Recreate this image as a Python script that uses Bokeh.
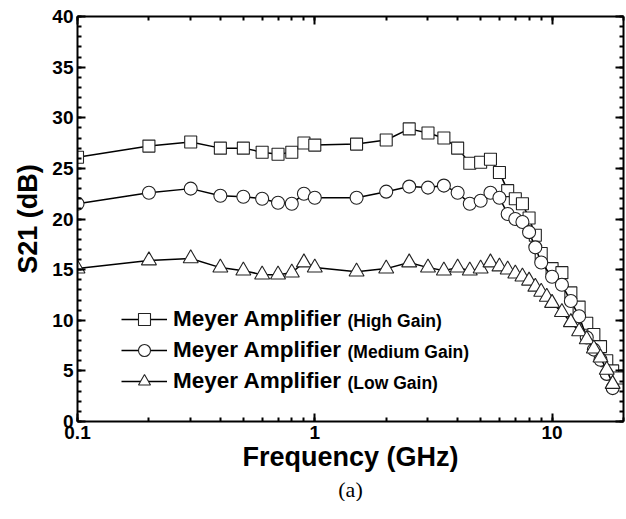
from bokeh.plotting import figure
from bokeh.models import (Range1d, LinearAxis, LogAxis, SingleIntervalTicker, LogTicker,
                          Legend, LegendItem, Label, Title, CustomJSTickFormatter)
from bokeh.embed import file_html
from bokeh.resources import INLINE

# ---- data ----
freq_high = [0.1, 0.2, 0.3, 0.4, 0.5, 0.6, 0.7, 0.8, 0.9, 1.0, 1.5, 2.0, 2.5, 3.0, 3.5, 4.0,
             4.5, 5.0, 5.5, 6.0, 6.5, 7.0, 7.5, 8.0, 8.5, 9.0, 10, 11, 12, 13, 14, 15, 16, 17, 18, 19]
s21_high = [26.1, 27.2, 27.6, 27.0, 27.0, 26.6, 26.4, 26.6, 27.5, 27.3, 27.4, 27.8, 28.9, 28.5, 28.0, 27.0,
            25.5, 25.6, 25.9, 24.6, 22.8, 22.0, 21.5, 20.1, 18.4, 16.6, 15.1, 14.7, 12.7, 11.3, 9.7, 8.6, 7.4, 6.0, 5.0, 4.3]

freq_med = [0.1, 0.2, 0.3, 0.4, 0.5, 0.6, 0.7, 0.8, 0.9, 1.0, 1.5, 2.0, 2.5, 3.0, 3.5, 4.0,
            4.5, 5.0, 5.5, 6.0, 6.5, 7.0, 7.5, 8.0, 8.5, 9.0, 10, 11, 12, 13, 14, 15, 16, 17, 18]
s21_med = [21.5, 22.6, 23.0, 22.3, 22.2, 22.0, 21.6, 21.5, 22.5, 22.1, 22.1, 22.7, 23.2, 23.1, 23.3, 22.6,
           21.5, 21.8, 22.6, 22.1, 20.5, 20.0, 19.7, 18.7, 17.2, 15.7, 14.3, 13.5, 11.9, 10.4, 8.3, 7.1, 6.1, 4.7, 3.3]

freq_low = [0.1, 0.2, 0.3, 0.4, 0.5, 0.6, 0.7, 0.8, 0.9, 1.0, 1.5, 2.0, 2.5, 3.0, 3.5, 4.0,
            4.5, 5.0, 5.5, 6.0, 6.5, 7.0, 7.5, 8.0, 8.5, 9.0, 9.5, 10, 11, 12, 13, 14, 15, 16, 17, 18]
s21_low = [15.1, 15.9, 16.1, 15.2, 14.9, 14.5, 14.5, 14.7, 15.7, 15.2, 14.8, 15.1, 15.7, 15.2, 14.9, 15.2,
           14.9, 15.1, 15.7, 15.3, 15.0, 14.6, 14.3, 13.9, 13.3, 12.8, 12.3, 11.7, 10.8, 9.8, 8.9, 8.1, 7.2, 6.3, 5.1, 3.7]

series_names = ["Meyer Amplifier", "Meyer Amplifier", "Meyer Amplifier"]
series_suffix = ["(High Gain)", "(Medium Gain)", "(Low Gain)"]

x_label = "Frequency (GHz)"
y_label = "S21 (dB)"
caption = "(a)"

FONT = "Liberation Sans"

p = figure(frame_width=546, frame_height=405, x_axis_type="log",
           x_range=Range1d(0.1, 20), y_range=Range1d(0, 40),
           output_backend="svg", toolbar_location=None,
           min_border_left=77, min_border_right=2, min_border_top=16, min_border_bottom=60)
p.grid.visible = False
p.outline_line_color = None
p.background_fill_color = "white"
p.border_fill_color = "white"

def style_axis(ax, labels=True):
    ax.axis_line_width = 2
    ax.axis_line_color = "black"
    ax.major_tick_in = 8
    ax.major_tick_out = 0
    ax.minor_tick_in = 4
    ax.minor_tick_out = 0
    ax.major_tick_line_width = 2
    ax.minor_tick_line_width = 2
    ax.major_label_text_font = FONT
    ax.major_label_text_font_style = "bold"
    ax.major_label_text_font_size = "19px"
    ax.major_label_text_color = "black"
    ax.major_label_standoff = 4
    if not labels:
        ax.major_label_text_font_size = "1px"
        ax.major_label_text_alpha = 0
        ax.major_label_standoff = 0

p.yaxis.ticker = SingleIntervalTicker(interval=5, num_minor_ticks=5)
p.xaxis.ticker = LogTicker(num_minor_ticks=10)
p.xaxis.formatter = CustomJSTickFormatter(code="return String(Number(tick.toPrecision(6)));")
style_axis(p.xaxis[0])
style_axis(p.yaxis[0])
p.xaxis.axis_label = x_label
p.yaxis.axis_label = y_label
for ax in (p.xaxis[0], p.yaxis[0]):
    ax.axis_label_text_font = FONT
    ax.axis_label_text_font_style = "bold"
    ax.axis_label_text_font_size = "27px"
    ax.axis_label_text_color = "black"
p.xaxis.axis_label_standoff = 0
p.yaxis.axis_label_standoff = 6

ra = LinearAxis(ticker=SingleIntervalTicker(interval=5, num_minor_ticks=5))
style_axis(ra, labels=False)
p.add_layout(ra, "right")
ta = LogAxis(ticker=LogTicker(num_minor_ticks=10))
style_axis(ta, labels=False)
p.add_layout(ta, "above")

edge = "#222222"
r = []
for fx, sy, mk, sz in [(freq_high, s21_high, "square", 12),
                       (freq_med, s21_med, "circle", 13),
                       (freq_low, s21_low, "triangle", 15)]:
    ln = p.line(fx, sy, line_color="black", line_width=1.5)
    sc = p.scatter(fx, sy, marker=mk, size=sz, fill_color="white", line_color=edge, line_width=1.1)
    r.append((ln, sc))

items = [LegendItem(label=series_names[i], renderers=[r[i][0], r[i][1]]) for i in range(3)]
legend = Legend(items=items, location=(44, 25), orientation="vertical",
                label_text_font=FONT, label_text_font_style="bold", label_text_font_size="22.5px",
                label_text_color="black", label_standoff=6, glyph_width=46, glyph_height=30,
                label_height=30, spacing=1, padding=0, margin=0,
                border_line_alpha=0, background_fill_alpha=0)
p.add_layout(legend, "center")

row_y = [102, 71, 40]
for i in range(3):
    p.add_layout(Label(x=270, y=row_y[i] - 1, x_units="screen", y_units="screen",
                       text=series_suffix[i], text_font=FONT, text_font_style="bold",
                       text_font_size="17.5px", text_color="black", text_baseline="middle"))

p.add_layout(Title(text=caption, align="center", text_font="Liberation Serif", standoff=0,
                   text_font_style="normal", text_font_size="22px", text_color="black"), "below")

open("out.html", "w").write(file_html(p, INLINE))
